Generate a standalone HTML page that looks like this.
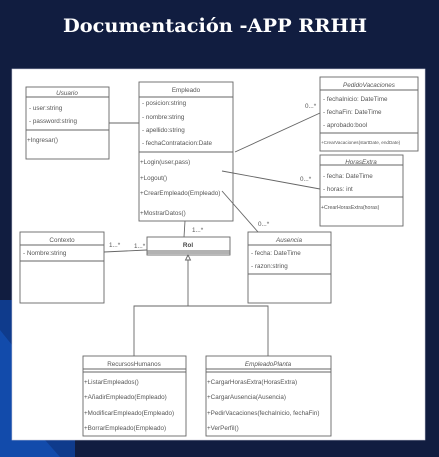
<!DOCTYPE html>
<html><head><meta charset="utf-8"><style>
html,body{margin:0;padding:0;width:439px;height:457px;overflow:hidden;background:#111d40}
svg{display:block}
text{font-family:"Liberation Sans",sans-serif;font-size:6.3px;fill:#555}
</style></head><body>
<svg width="439" height="457" viewBox="0 0 439 457">
<rect width="439" height="457" fill="#111d40"/>
<polygon points="0,300 12,300 12,440 75,440 75,457 0,457" fill="#0f3b8c"/>
<polygon points="0,330 12,345 12,440 45,440 60,457 0,457" fill="#1452b8" opacity="0.7"/>
<text x="215" y="32" text-anchor="middle" textLength="304" lengthAdjust="spacingAndGlyphs" style="font-family:'DejaVu Serif','Liberation Serif',serif;font-size:19px;font-weight:bold;fill:#fff">Documentación -APP RRHH</text>
<rect x="12" y="69" width="413" height="371" fill="#fff" stroke="#ccd" stroke-width="0.6"/>
<g fill="none" stroke="#666" stroke-width="0.9">
<rect x="26" y="87" width="83" height="72"/><line x1="26" y1="97" x2="109" y2="97"/><line x1="26" y1="130" x2="109" y2="130"/>
<rect x="139" y="82" width="94" height="139"/><line x1="139" y1="97" x2="233" y2="97"/><line x1="139" y1="152" x2="233" y2="152"/>
<rect x="320" y="77" width="98" height="74"/><line x1="320" y1="90" x2="418" y2="90"/><line x1="320" y1="133" x2="418" y2="133"/>
<rect x="320" y="155" width="83" height="71"/><line x1="320" y1="165" x2="403" y2="165"/><line x1="320" y1="197" x2="403" y2="197"/>
<rect x="20" y="232" width="84" height="71"/><line x1="20" y1="245" x2="104" y2="245"/><line x1="20" y1="261" x2="104" y2="261"/>
<rect x="147" y="237" width="83" height="18"/><line x1="147" y1="251" x2="230" y2="251"/><line x1="147" y1="253" x2="230" y2="253"/>
<rect x="248" y="232" width="83" height="71"/><line x1="248" y1="245" x2="331" y2="245"/><line x1="248" y1="274" x2="331" y2="274"/>
<rect x="83" y="356" width="103" height="80"/><line x1="83" y1="369" x2="186" y2="369"/><line x1="83" y1="372" x2="186" y2="372"/>
<rect x="206" y="356" width="125" height="80"/><line x1="206" y1="369" x2="331" y2="369"/><line x1="206" y1="372" x2="331" y2="372"/>
<line x1="109" y1="123" x2="139" y2="123"/>
<line x1="235" y1="152" x2="320" y2="113"/>
<line x1="222" y1="171" x2="320" y2="189"/>
<line x1="222" y1="191" x2="258" y2="232"/>
<line x1="185" y1="221" x2="184" y2="237"/>
<line x1="104" y1="252" x2="147" y2="250"/>
<polygon points="188,255 185.5,260 190.5,260"/>
<polyline points="188,260 188,306"/>
<polyline points="134,356 134,306 268,306 268,356"/>
</g>
<text x="67" y="95" text-anchor="middle" font-style="italic">Usuario</text>
<text x="29" y="110">- user:string</text><text x="29" y="123">- password:string</text>
<text x="27" y="142">+Ingresar()</text>
<text x="186" y="92" text-anchor="middle">Empleado</text>
<text x="142" y="105">- posicion:string</text><text x="142" y="119">- nombre:string</text>
<text x="142" y="132">- apellido:string</text><text x="142" y="145">- fechaContratacion:Date</text>
<text x="140" y="164">+Login(user,pass)</text><text x="140" y="180">+Logout()</text>
<text x="140" y="195">+CrearEmpleado(Empleado)</text><text x="140" y="215">+MostrarDatos()</text>
<text x="369" y="87" text-anchor="middle" font-style="italic">PedidoVacaciones</text>
<text x="323" y="101">- fechaInicio: DateTime</text><text x="323" y="114">- fechaFin: DateTime</text>
<text x="323" y="127">- aprobado:bool</text>
<text x="321" y="144" style="font-size:4.6px">+CrearVacaciones(startDate, endDate)</text>
<text x="361" y="164" text-anchor="middle" font-style="italic">HorasExtra</text>
<text x="323" y="178">- fecha: DateTime</text><text x="323" y="191">- horas: int</text>
<text x="321" y="209" style="font-size:5.2px">+CrearHorasExtra(horas)</text>
<text x="62" y="242" text-anchor="middle">Contexto</text>
<text x="23" y="255">- Nombre:string</text>
<text x="188" y="247" text-anchor="middle" style="font-weight:bold;fill:#444">Rol</text>
<text x="289" y="242" text-anchor="middle" font-style="italic">Ausencia</text>
<text x="251" y="255">- fecha: DateTime</text><text x="251" y="268">- razon:string</text>
<text x="134" y="366" text-anchor="middle">RecursosHumanos</text>
<text x="84" y="384">+ListarEmpleados()</text><text x="84" y="399">+AñadirEmpleado(Empleado)</text>
<text x="84" y="415">+ModificarEmpleado(Empleado)</text><text x="84" y="430">+BorrarEmpleado(Empleado)</text>
<text x="268" y="366" text-anchor="middle" font-style="italic">EmpleadoPlanta</text>
<text x="207" y="384">+CargarHorasExtra(HorasExtra)</text><text x="207" y="399">+CargarAusencia(Ausencia)</text>
<text x="207" y="415">+PedirVacaciones(fechaInicio, fechaFin)</text><text x="207" y="430">+VerPerfil()</text>
<text x="305" y="108">0...*</text><text x="300" y="181">0...*</text><text x="258" y="226">0...*</text>
<text x="192" y="232">1...*</text><text x="109" y="247">1...*</text><text x="134" y="248">1...*</text>
</svg>
</body></html>
